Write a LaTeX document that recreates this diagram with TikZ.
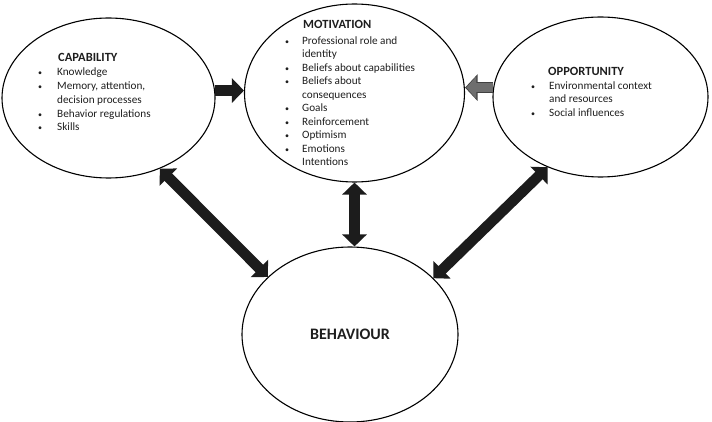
\documentclass[tikz,border=0pt]{standalone}
\usepackage{fontspec}
\setmainfont{Carlito}
\usetikzlibrary{shapes.geometric,arrows.meta}
\definecolor{arrowdark}{HTML}{1C1C1C}
\definecolor{arrowgray}{HTML}{6E6E6E}
\definecolor{txt}{HTML}{1E1E1E}
\tikzset{
  tipA/.tip={Triangle[width=24pt,length=12pt]},
  tipO/.tip={Triangle[width=26pt,length=12.5pt]},
  tipI/.tip={Triangle[width=22pt,length=10pt]},
}
\begin{document}
\begin{tikzpicture}[x=1pt,y=-1pt,
  oval/.style={draw=black, line width=1.1pt, ellipse, inner sep=0pt},
  ttl/.style={anchor=base west, inner sep=0pt, text=txt, font=\fontsize{12.5}{14}\selectfont\bfseries},
  itm/.style={anchor=base west, inner sep=0pt, text=txt, font=\fontsize{11.2}{13}\selectfont},
  bul/.style={anchor=base, inner sep=0pt, text=txt, font=\fontsize{8}{10}\selectfont},
  blk/.style={line width=10.5pt, draw=arrowdark},
]
\useasboundingbox (0,0) rectangle (712,422);

% ellipses
\node[oval, minimum width=213pt, minimum height=160pt] (cap) at (108.5,98) {};
\node[oval, minimum width=220pt, minimum height=178pt] (mot) at (354.5,93) {};
\node[oval, minimum width=215pt, minimum height=160pt] (opp) at (600.5,97) {};
\node[oval, minimum width=216pt, minimum height=175pt,
      font=\fontsize{16}{18}\selectfont\bfseries, text=txt] (beh) at (350,334.5) {BEHAVIOUR};

% capability text
\node[ttl] (capT) at (58,62) {CAPABILITY};
\node[bul] (capB1) at (40,76) {•};
\node[itm] (capL1) at (57,76) {Knowledge};
\node[bul] (capB2) at (40,89.7) {•};
\node[itm] (capL2) at (57,89.7) {Memory, attention,};
\node[itm] (capL3) at (57,103.4) {decision processes};
\node[bul] (capB4) at (40,117.1) {•};
\node[itm] (capL4) at (57,117.1) {Behavior regulations};
\node[bul] (capB5) at (40,130.8) {•};
\node[itm] (capL5) at (57,130.8) {Skills};

% motivation text
\node[ttl] (motT) at (303,29) {MOTIVATION};
\node[bul] (motB1) at (287,44.5) {•};
\node[itm] (motL1) at (302,44.5) {Professional role and};
\node[itm] (motL2) at (302,58) {identity};
\node[bul] (motB3) at (287,71.5) {•};
\node[itm] (motL3) at (302,71.5) {Beliefs about capabilities};
\node[bul] (motB4) at (287,85) {•};
\node[itm] (motL4) at (302,85) {Beliefs about};
\node[itm] (motL5) at (302,98.5) {consequences};
\node[bul] (motB6) at (287,112) {•};
\node[itm] (motL6) at (302,112) {Goals};
\node[bul] (motB7) at (287,125.5) {•};
\node[itm] (motL7) at (302,125.5) {Reinforcement};
\node[bul] (motB8) at (287,139) {•};
\node[itm] (motL8) at (302,139) {Optimism};
\node[bul] (motB9) at (287,152.5) {•};
\node[itm] (motL9) at (302,152.5) {Emotions};
\node[itm] (motL10) at (302,166) {Intentions};

% opportunity text
\node[ttl] (oppT) at (548,76) {OPPORTUNITY};
\node[bul] (oppB1) at (533,89.5) {•};
\node[itm] (oppL1) at (549,89.5) {Environmental context};
\node[itm] (oppL2) at (549,103) {and resources};
\node[bul] (oppB3) at (533,116.5) {•};
\node[itm] (oppL3) at (549,116.5) {Social influences};

% arrows
\draw[blk, -tipA] (cap.4.6) -- (cap.4.6 -| mot.west);
\draw[line width=11.5pt, draw=black!75, -tipO] (opp.175.7) -- (opp.175.7 -| mot.east);
\draw[line width=9pt, draw=arrowgray, -tipI, shorten >=1.3pt, shorten <=0.6pt] (opp.175.7) -- (opp.175.7 -| mot.east);
\draw[blk, tipA-tipA] (cap.-54) -- (beh.145);
\draw[blk, tipA-tipA] (mot.south) -- (mot.south |- beh.north);
\draw[blk, tipA-tipA] (opp.233) -- (beh.34);
\end{tikzpicture}
\end{document}
